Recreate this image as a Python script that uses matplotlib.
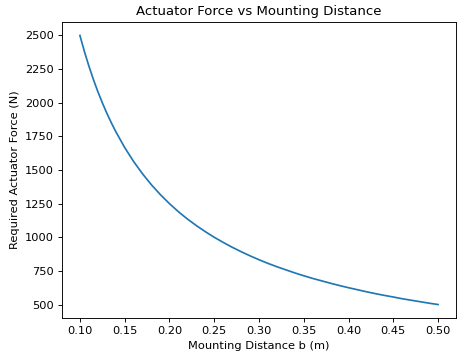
import matplotlib
matplotlib.use("Agg")
import matplotlib.pyplot as plt

# mounting distance b (m) and required force (N)
distance_b = [0.100, 0.105, 0.110, 0.115, 0.120, 0.125, 0.130, 0.135, 0.140, 0.150,
              0.160, 0.170, 0.180, 0.190, 0.200, 0.210, 0.220, 0.230, 0.240, 0.250,
              0.260, 0.270, 0.280, 0.290, 0.300, 0.310, 0.320, 0.330, 0.340, 0.350,
              0.360, 0.370, 0.380, 0.390, 0.400, 0.410, 0.420, 0.430, 0.440, 0.450,
              0.460, 0.470, 0.480, 0.490, 0.500]
force_n = [2500, 2381, 2273, 2174, 2083, 2000, 1923, 1852, 1786, 1667,
           1563, 1471, 1389, 1316, 1250, 1190, 1136, 1087, 1042, 1000,
           962, 926, 893, 862, 833, 806, 781, 758, 735, 714,
           694, 676, 658, 641, 625, 610, 595, 581, 568, 556,
           543, 532, 521, 510, 500]

dpi = 82
fig, ax = plt.subplots(figsize=(457 / dpi, 358 / dpi), dpi=dpi)
fig.subplots_adjust(left=62 / 457, right=456 / 457, top=1 - 22 / 358, bottom=1 - 318 / 358)

ax.plot(distance_b, force_n, color="#1f77b4", linewidth=1.5)
ax.set_title("Actuator Force vs Mounting Distance", fontsize=11.6)
ax.set_xlabel("Mounting Distance b (m)")
ax.set_ylabel("Required Actuator Force (N)")
ax.set_xticks([0.10, 0.15, 0.20, 0.25, 0.30, 0.35, 0.40, 0.45, 0.50])
ax.set_yticks([500, 750, 1000, 1250, 1500, 1750, 2000, 2250, 2500])

fig.savefig("out.png", dpi=dpi)
